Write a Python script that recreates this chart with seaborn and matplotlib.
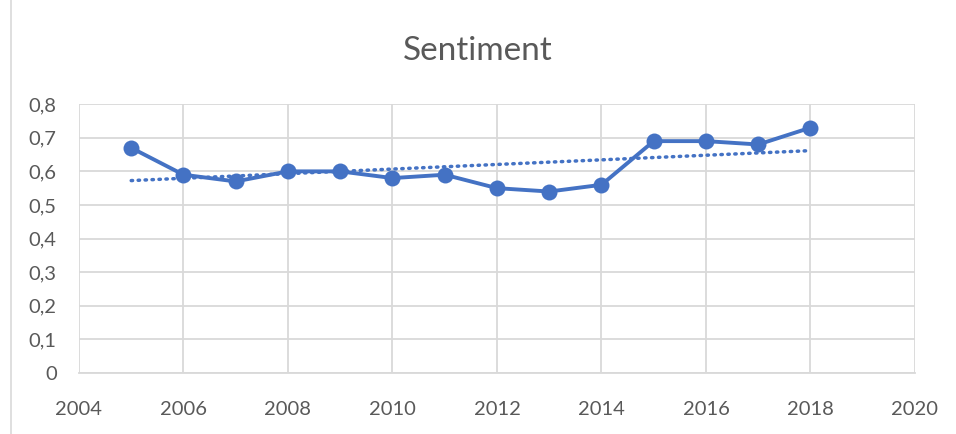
import numpy as np
import pandas as pd
import seaborn as sns
import matplotlib.pyplot as plt
from matplotlib.ticker import FuncFormatter, MultipleLocator
from matplotlib.patches import Rectangle

# data
years = [2005, 2006, 2007, 2008, 2009, 2010, 2011, 2012, 2013, 2014, 2015, 2016, 2017, 2018]
sentiment = [0.67, 0.59, 0.57, 0.60, 0.60, 0.58, 0.59, 0.55, 0.54, 0.56, 0.69, 0.69, 0.68, 0.73]

data = pd.DataFrame({'year': years, 'sentiment': sentiment})

sns.set_style('white')
plt.rcParams['font.family'] = ['Lato', 'DejaVu Sans']

blue = '#4472C4'
grey_txt = '#595959'

fig = plt.figure(figsize=(9.56, 4.34), dpi=100)
ax = fig.add_axes([0.0826, 0.1406, 0.8745, 0.6194])

# trend line (linear fit over the data)
sns.regplot(x='year', y='sentiment', data=data, scatter=False, ci=None, truncate=True, ax=ax,
            line_kws=dict(color=blue, lw=2.5, ls=(0, (0.4, 1.6)), dash_capstyle='round', zorder=3))

sns.lineplot(x='year', y='sentiment', data=data, ax=ax, color=blue, lw=2.8,
             marker='o', markersize=11.5, markeredgewidth=0, zorder=4)

ax.set_xlim(2004, 2020)
ax.set_ylim(0, 0.8)
ax.xaxis.set_major_locator(MultipleLocator(2))
ax.yaxis.set_major_locator(MultipleLocator(0.1))
ax.yaxis.set_major_formatter(FuncFormatter(lambda v, p: '0' if abs(v) < 1e-9 else f'{v:.1f}'.replace('.', ',')))
ax.grid(True, color='#D9D9D9', lw=1.3)
ax.set_axisbelow(True)
for s in ['top', 'right', 'left']:
    ax.spines[s].set_visible(False)
ax.spines['bottom'].set_color('#D9D9D9')
ax.spines['bottom'].set_linewidth(1.3)
ax.tick_params(axis='both', colors=grey_txt, labelsize=14.5, length=0)
ax.tick_params(axis='y', pad=16)
ax.tick_params(axis='x', pad=20)
ax.set_xlabel('')
ax.set_ylabel('')

fig.text(0.5, 0.882, 'Sentiment', ha='center', va='center', fontsize=24, color=grey_txt)

# chart frame
fig.patches.append(Rectangle((0.011, -0.01), 1.2, 1.2, transform=fig.transFigure,
                             fill=False, edgecolor='#D9D9D9', lw=1.2))

fig.savefig('out.png', dpi=100)
